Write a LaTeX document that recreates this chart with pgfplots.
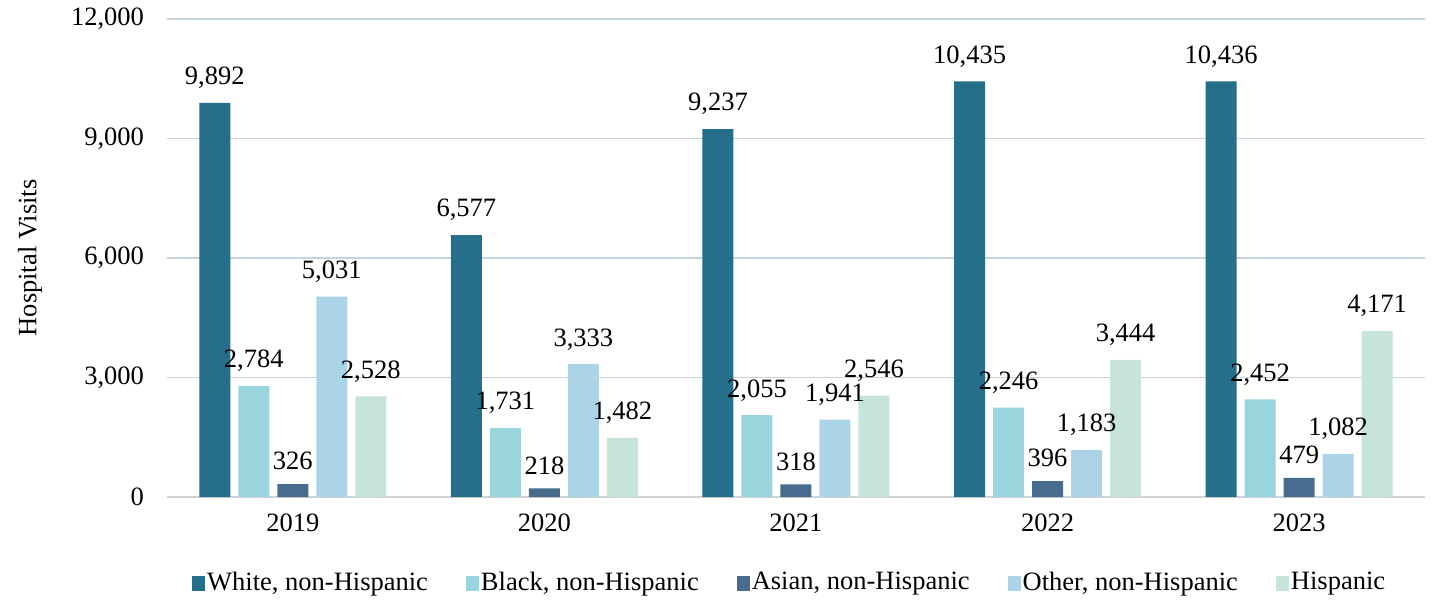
\documentclass[border=0pt]{standalone}
\usepackage{fontspec}
\setmainfont{Liberation Serif}
\usepackage{pgfplots}
\pgfplotsset{compat=1.18}
\definecolor{cWhite}{HTML}{266F8A}
\definecolor{cBlack}{HTML}{9AD4DC}
\definecolor{cAsian}{HTML}{476C8E}
\definecolor{cOther}{HTML}{ABD5E7}
\definecolor{cHisp}{HTML}{C7E4DC}
\definecolor{cGrid}{HTML}{C5D3DC}
\begin{document}
\fontsize{26.5pt}{32pt}\selectfont
\begin{tikzpicture}
\useasboundingbox (-167pt,-108pt) rectangle (1267pt,497pt);
\begin{axis}[
  at={(0pt,0pt)}, anchor=south west,
  scale only axis, width=1258pt, height=478pt,
  ybar, bar width=31pt,
  xmin=-0.5, xmax=4.5, ymin=0, ymax=12000,
  xtick=data, xticklabels={2019,2020,2021,2022,2023},
  ytick={0,3000,6000,9000,12000},
  scaled y ticks=false,
  yticklabel style={/pgf/number format/1000 sep={,}, /pgf/number format/fixed, xshift=-14pt},
  /pgf/number format/1000 sep={,},
  /pgf/number format/assume math mode=true,
  major tick length=0pt,
  ymajorgrids, grid style={cGrid, line width=1.5pt},
  axis lines*=left,
  y axis line style={draw=none},
  x axis line style={draw=gray!35, line width=1.5pt},
  xticklabel style={yshift=-8pt},
  every axis y label/.style={at={(rel axis cs:0,0.5)}, xshift=-137pt, rotate=90, anchor=center},
  ylabel={Hospital Visits},
  nodes near coords,
  every node near coord/.append style={yshift=5pt, /pgf/number format/1000 sep={,}, /pgf/number format/assume math mode=true},
  legend columns=5,
  legend style={at={(0.495,-0.18)}, anchor=center, draw=none, fill=none,
    /tikz/every even column/.append style={column sep=36pt}},
  legend image code/.code={\fill[#1] (0pt,-8pt) rectangle (13pt,7pt);},
]
\addplot[fill=cWhite, draw=none, bar shift=-78pt] coordinates {(0,9892) (1,6577) (2,9237) (3,10435) (4,10436)};
\addplot[fill=cBlack, draw=none, bar shift=-39pt] coordinates {(0,2784) (1,1731) (2,2055) (3,2246) (4,2452)};
\addplot[fill=cAsian, draw=none, bar shift=0pt] coordinates {(0,326) (1,218) (2,318) (3,396) (4,479)};
\addplot[fill=cOther, draw=none, bar shift=39pt] coordinates {(0,5031) (1,3333) (2,1941) (3,1183) (4,1082)};
\addplot[fill=cHisp, draw=none, bar shift=78pt] coordinates {(0,2528) (1,1482) (2,2546) (3,3444) (4,4171)};
\legend{White{,} non-Hispanic, Black{,} non-Hispanic, Asian{,} non-Hispanic, Other{,} non-Hispanic, Hispanic}
\end{axis}
\end{tikzpicture}
\end{document}
